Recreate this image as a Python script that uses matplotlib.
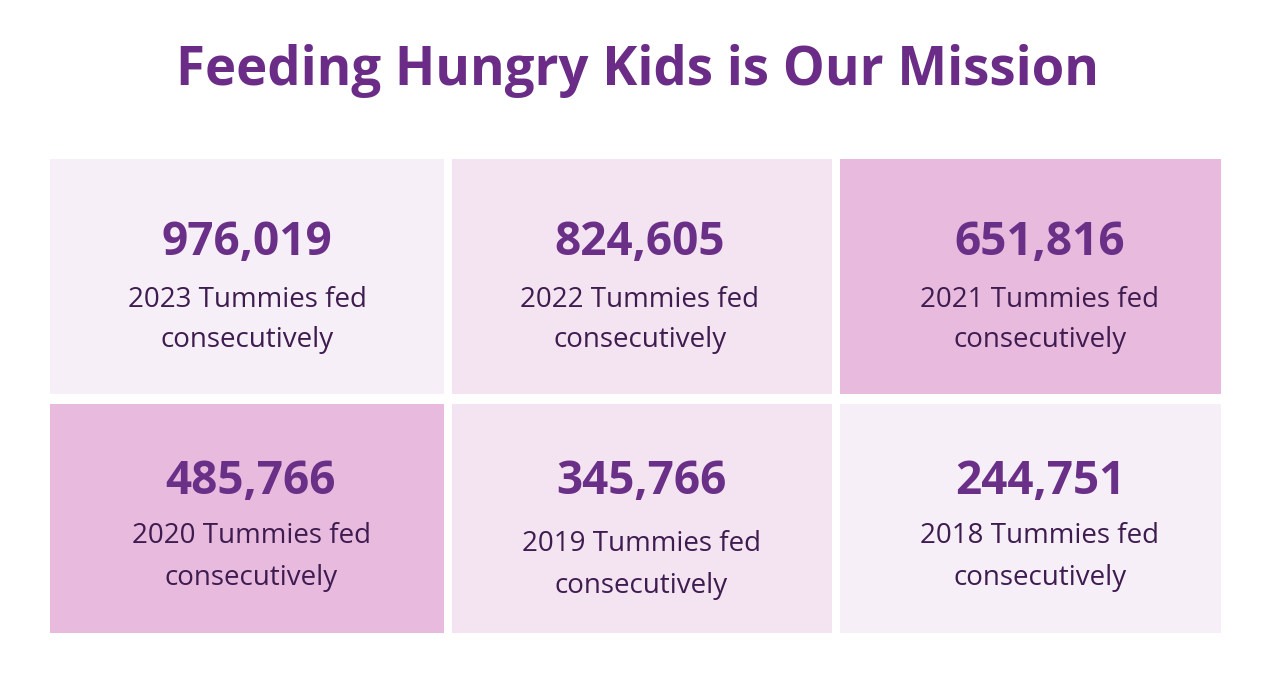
import matplotlib.pyplot as plt
from matplotlib.patches import Rectangle

# Data
counts = ["976,019", "824,605", "651,816", "485,766", "345,766", "244,751"]
years = ["2023", "2022", "2021", "2020", "2019", "2018"]
line1 = "Tummies fed"
line2 = "consecutively"

# farger per flis
tile_colors = ["#F7EFF7", "#F4E3F1", "#E8BBDE", "#E8BBDE", "#F4E3F1", "#F7EFF7"]

# layout i piksler (x0, x1) og (y0, y1)
cols = [(50, 444), (452, 832), (840, 1221)]
rows = [(159, 394), (404, 633)]
# tekstplassering per flis: x-senter, grunnlinje tall, linje 1, linje 2
text_pos = [(247, 255, 307, 347), (640, 255, 307, 347), (1040, 255, 307, 347),
            (251, 494, 543, 585), (641, 494, 551, 593), (1040, 494, 543, 585)]

fig = plt.figure(figsize=(12.8, 6.81), dpi=100)
ax = fig.add_axes([0, 0, 1, 1])
ax.set_xlim(0, 1280)
ax.set_ylim(681, 0)
ax.axis("off")

ax.text(638, 85, "Feeding Hungry Kids is Our Mission", ha="center", va="baseline",
        fontsize=38, fontweight="bold", color="#6A2C86", family="Open Sans")

for i in range(len(counts)):
    x0, x1 = cols[i % 3]
    y0, y1 = rows[i // 3]
    ax.add_patch(Rectangle((x0, y0), x1 - x0, y1 - y0, color=tile_colors[i], lw=0))
    tx, yn, y1l, y2l = text_pos[i]
    ax.text(tx, yn, counts[i], ha="center", va="baseline", fontsize=33,
            fontweight="bold", color="#6A3088", family="Open Sans")
    ax.text(tx, y1l, years[i] + " " + line1, ha="center", va="baseline",
            fontsize=20, color="#3E1C50", family="Open Sans")
    ax.text(tx, y2l, line2, ha="center", va="baseline",
            fontsize=20, color="#3E1C50", family="Open Sans")

fig.savefig("out.png", dpi=100)
